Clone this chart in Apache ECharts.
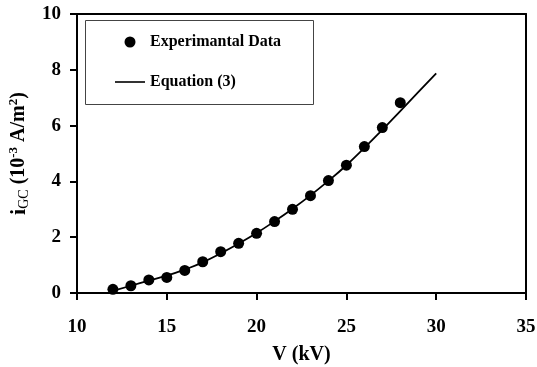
<!DOCTYPE html>
<html>
<head>
<meta charset="utf-8">
<script src="https://cdn.jsdelivr.net/npm/echarts@6/dist/echarts.min.js"></script>
<style>
    html, body { margin: 0; padding: 0; background: #fff; }
    #chart { width: 537px; height: 367px; }
</style>
</head>
<body>
<div id="chart"></div>
<script>
    // measured points (V in kV, current density)
    var voltage = [12, 13, 14, 15, 16, 17, 18, 19, 20, 21, 22, 23, 24, 25, 26, 27, 28];
    var measured = [0.13, 0.26, 0.47, 0.56, 0.81, 1.12, 1.48, 1.78, 2.14, 2.56, 3.0, 3.49, 4.03, 4.58, 5.25, 5.93, 6.82];

    // Equation (3) curve
    var eqVoltage = [12, 13, 14, 15, 16, 17, 18, 19, 20, 21, 22, 23, 24, 25, 26, 27, 28, 29, 30];
    var eqValues = [0.08, 0.26, 0.44, 0.62, 0.84, 1.1, 1.42, 1.77, 2.15, 2.57, 3.02, 3.5, 4.02, 4.58, 5.2, 5.85, 6.52, 7.2, 7.87];

    var xTicks = [10, 15, 20, 25, 30, 35];
    var yTicks = [0, 2, 4, 6, 8, 10];

    var font = "'Liberation Serif', 'Times New Roman', serif";

    var chart = echarts.init(document.getElementById("chart"));

    // top / right lines closing the plot box
    var frameAxis = {
        axisLine: { show: true, onZero: false, lineStyle: { color: "#000", width: 2 } },
        axisTick: { show: false },
        axisLabel: { show: false },
        splitLine: { show: false }
    };

    var option = {
        animation: false,
        backgroundColor: "#fff",
        grid: {
            left: 77,
            right: 11,
            top: 14,
            bottom: 74,
            containLabel: false,
            outerBoundsMode: "none"
        },
        legend: {
            orient: "vertical",
            left: 110,
            top: 29,
            itemWidth: 30,
            itemHeight: 11,
            itemGap: 24,
            textStyle: { fontFamily: font, fontWeight: "bold", fontSize: 16, color: "#000" },
            data: [
                { name: "Experimantal Data", icon: "circle", itemStyle: { color: "#000", opacity: 1 } },
                { name: "Equation (3)", icon: "path://M0,0L30,0L30,1.6L0,1.6Z", itemStyle: { color: "#000" } }
            ]
        },
        graphic: [{
            type: "rect",
            left: 83,
            top: 18,
            shape: { width: 228, height: 84 },
            style: { fill: "none", stroke: "#444", lineWidth: 1 },
            z: 1
        }],
        xAxis: [{
            type: "value",
            min: xTicks[0],
            max: xTicks[xTicks.length - 1],
            interval: 5,
            name: "V (kV)",
            nameLocation: "middle",
            nameGap: 52,
            nameTextStyle: { fontFamily: font, fontWeight: "bold", fontSize: 20, color: "#000" },
            axisLine: { show: true, onZero: false, lineStyle: { color: "#000", width: 2 } },
            axisTick: { show: true, inside: false, length: 7, lineStyle: { color: "#000", width: 2 } },
            axisLabel: { margin: 25, fontFamily: font, fontWeight: "bold", fontSize: 19, color: "#000" },
            splitLine: { show: false }
        }, Object.assign({
            type: "value",
            position: "top",
            min: xTicks[0],
            max: xTicks[xTicks.length - 1]
        }, frameAxis)],
        yAxis: [{
            type: "value",
            min: yTicks[0],
            max: yTicks[yTicks.length - 1],
            interval: 2,
            name: "{i|i}{sub|GC}{t| (10}{sup|-3}{t| A/m}{sup|2}{t|)}",
            nameLocation: "middle",
            nameGap: 40,
            nameRotate: 90,
            nameTextStyle: {
                fontFamily: font,
                color: "#000",
                rich: {
                    i: { fontFamily: font, fontWeight: "bold", fontSize: 22, lineHeight: 24, verticalAlign: "middle", color: "#000" },
                    sub: { fontFamily: font, fontSize: 14, lineHeight: 24, verticalAlign: "bottom", color: "#000" },
                    t: { fontFamily: font, fontWeight: "bold", fontSize: 20, lineHeight: 24, verticalAlign: "middle", color: "#000" },
                    sup: { fontFamily: font, fontWeight: "bold", fontSize: 13, lineHeight: 24, verticalAlign: "top", color: "#000" }
                }
            },
            axisLine: { show: true, onZero: false, lineStyle: { color: "#000", width: 2 } },
            axisTick: { show: true, inside: false, length: 7, lineStyle: { color: "#000", width: 2 } },
            axisLabel: { margin: 16, fontFamily: font, fontWeight: "bold", fontSize: 19, color: "#000" },
            splitLine: { show: false }
        }, Object.assign({
            type: "value",
            position: "right",
            min: yTicks[0],
            max: yTicks[yTicks.length - 1]
        }, frameAxis)],
        series: [
            {
                name: "Experimantal Data",
                type: "scatter",
                symbol: "circle",
                symbolSize: 11,
                itemStyle: { color: "#000", opacity: 1 },
                data: voltage.map(function (v, i) { return [v, measured[i]]; }),
                z: 3
            },
            {
                name: "Equation (3)",
                type: "line",
                smooth: true,
                showSymbol: false,
                symbol: "none",
                lineStyle: { color: "#000", width: 1.8 },
                itemStyle: { color: "#000" },
                data: eqVoltage.map(function (v, i) { return [v, eqValues[i]]; }),
                z: 2
            }
        ]
    };

    chart.setOption(option);
</script>
</body>
</html>
